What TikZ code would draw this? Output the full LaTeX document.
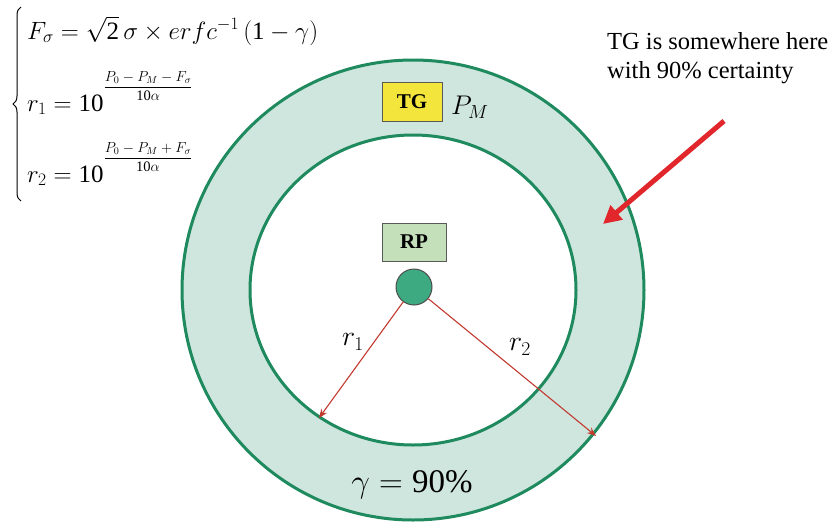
\RequirePackage{fix-cm}
\documentclass[tikz,border=0pt]{standalone}
\usepackage{fontspec}
\setmainfont{Liberation Serif}
\usetikzlibrary{arrows.meta,decorations.pathreplacing}
\definecolor{ringfill}{HTML}{CFE6DF}
\definecolor{ringline}{HTML}{1E8A5E}
\definecolor{tgyellow}{HTML}{F3E53C}
\definecolor{rpgreen}{HTML}{C4E0BA}
\definecolor{dotgreen}{HTML}{3DAA82}
\definecolor{thinred}{HTML}{C23A2E}
\definecolor{bigred}{HTML}{E1262C}
\newcommand{\expfrac}[2]{\raisebox{20pt}{\fontsize{14.5}{17}\selectfont$\displaystyle\frac{#1}{#2}$}}
\tikzset{
  ringstyle/.style={draw=ringline, line width=3pt},
  labelbox/.style={draw=black!65, line width=1pt, inner sep=0pt, font=\fontsize{21}{24}\selectfont\bfseries},
  rarrow/.style={draw=thinred, line width=1.1pt, -{Stealth[length=9pt,width=7pt]}},
  bigarrow/.style={draw=bigred, line width=5pt, -{Triangle[length=18pt,width=18pt]}},
  mathbig/.style={anchor=base west, inner sep=0pt, font=\fontsize{25}{28}\selectfont},
  rlabel/.style={inner sep=0pt, font=\fontsize{28}{32}\selectfont},
}
\begin{document}
\begin{tikzpicture}[x=1pt,y=-1pt]
\useasboundingbox (0,0) rectangle (839,523);
\fill[white] (0,0) rectangle (839,523);
% ring
\draw[ringstyle, fill=ringfill] (413,290) ellipse [x radius=231, y radius=230];
\draw[ringstyle, fill=white] (413,290) ellipse [x radius=163, y radius=155];
% boxes
\node[labelbox, fill=tgyellow, minimum width=60pt, minimum height=39pt] (tg) at (412,101.5) {TG};
\node[anchor=base west, inner sep=0pt, font=\fontsize{27}{30}\selectfont] (pm) at (451,114) {$P_M$};
\node[labelbox, fill=rpgreen, minimum width=64pt, minimum height=38pt] (rp) at (414,242) {RP};
\node[circle, draw=black!70, line width=1pt, fill=dotgreen, minimum size=36pt, inner sep=0pt] (dot) at (414,287) {};
% radius arrows
\coordinate (r1end) at (319,418);
\coordinate (r2end) at (596,436);
\draw[rarrow] (dot) -- (r1end);
\draw[rarrow] (dot) -- (r2end);
\node[rlabel] (r1lab) at (353,342) {$r_1$};
\node[rlabel] (r2lab) at (520,347) {$r_2$};
% gamma
\node[anchor=base, inner sep=0pt, font=\fontsize{33}{36}\selectfont] (gam) at (412,492) {$\gamma = \mbox{90\%}$};
% annotation
\node[anchor=base west, inner sep=0pt, align=left, font=\fontsize{24.5}{29}\selectfont] (note) at (607,78) {TG is somewhere here\\with 90\% certainty};
\coordinate (bigstart) at (724,121);
\coordinate (bigend) at (603,224);
\draw[bigarrow] (bigstart) -- (bigend);
% formulas
\node[mathbig] (f1) at (27,39) {$F_\sigma = \sqrt{\mbox{2}}\,\sigma \times erfc^{-1}\left(\mbox{1}-\gamma\right)$};
\node[mathbig] (f2) at (27,111) {$r_1 = \mbox{10}\expfrac{P_0-P_M-F_\sigma}{\mbox{10}\alpha}$};
\node[mathbig] (f3) at (27,182) {$r_2 = \mbox{10}\expfrac{P_0-P_M+F_\sigma}{\mbox{10}\alpha}$};
\draw[line width=1pt, decorate, decoration={brace, amplitude=8pt}] (21,201) -- (21,7);
\end{tikzpicture}
\end{document}
